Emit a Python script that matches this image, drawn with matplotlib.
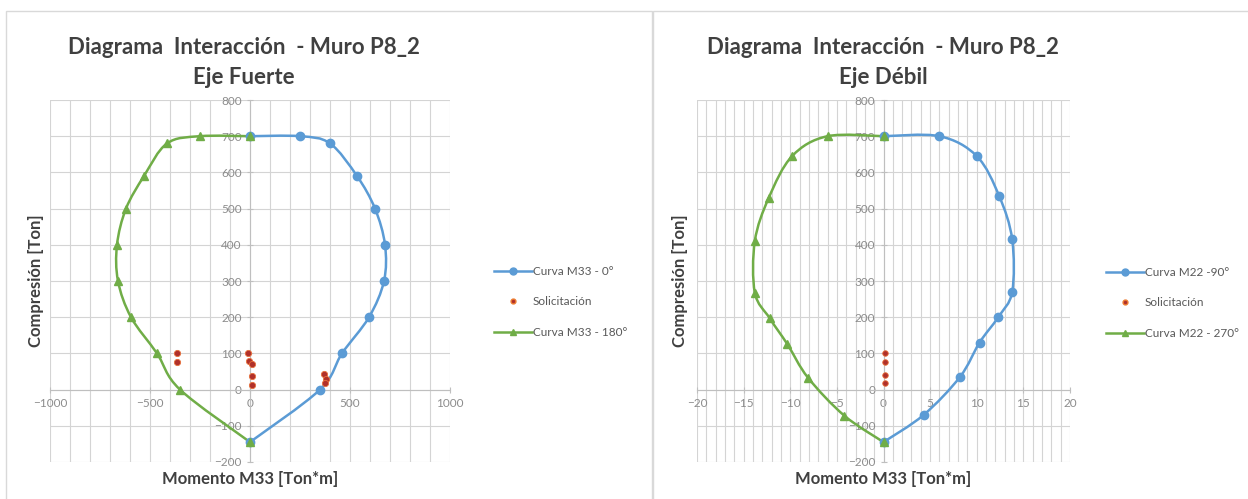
import numpy as np
import matplotlib
matplotlib.use("Agg")
import matplotlib.pyplot as plt
from matplotlib.path import Path
from matplotlib.patches import PathPatch, Rectangle
from matplotlib.lines import Line2D

plt.rcParams['font.family'] = ['Lato', 'DejaVu Sans']

# Eje fuerte (M33)
m33_0 = [0, 250, 400, 535, 625, 675, 670, 595, 460, 350, 0]
p33_0 = [700, 700, 680, 590, 500, 400, 300, 200, 100, 0, -145]
m33_180 = [0, -250, -415, -530, -620, -665, -660, -595, -465, -350, 0]
p33_180 = [700, 700, 680, 590, 500, 400, 300, 200, 100, 0, -145]
sol33_m = [-365, -365, -8, -5, 8, 8, 8, 370, 378, 375]
sol33_p = [100, 75, 100, 80, 70, 37, 14, 42, 28, 18]

# Eje debil (M22)
m22_90 = [0, 6, 10, 12.4, 13.8, 13.8, 12.3, 10.3, 8.2, 4.3, 0]
p22_90 = [700, 700, 645, 535, 415, 270, 200, 130, 35, -70, -145]
m22_270 = [0, -6, -9.8, -12.3, -13.8, -13.8, -12.2, -10.3, -8.1, -4.2, 0]
p22_270 = [700, 700, 645, 530, 410, 268, 197, 125, 33, -72, -145]
sol22_m = [0.2, 0.2, 0.2, 0.2]
sol22_p = [100, 75, 40, 18]

BLUE = '#5B9BD5'
GREEN = '#70AD47'
RED = '#B0302A'
GRID = '#D4D4D4'
TXT = '#595959'

W, H = 1248, 499
fig = plt.figure(figsize=(W / 100, H / 100), dpi=100)


def smooth_path(x, y):
    # curva suave tipo Excel (Catmull-Rom como segmentos Bezier)
    pts = np.column_stack([x, y]).astype(float)
    n = len(pts)
    verts = [pts[0]]
    codes = [Path.MOVETO]
    for i in range(n - 1):
        p0 = pts[max(i - 1, 0)]
        p1 = pts[i]
        p2 = pts[i + 1]
        p3 = pts[min(i + 2, n - 1)]
        c1 = p1 + (p2 - p0) / 6.0
        c2 = p2 - (p3 - p1) / 6.0
        verts += [c1, c2, p2]
        codes += [Path.CURVE4] * 3
    return Path(verts, codes)


def curve(ax, x, y, color, marker):
    ax.add_patch(PathPatch(smooth_path(x, y), fill=False, edgecolor=color,
                           lw=1.8, zorder=3))
    ax.plot(x, y, linestyle='none', marker=marker, ms=6, color=color,
            zorder=4)


def panel(rect, xlim, xstep, xlabel_step):
    ax = fig.add_axes(rect)
    ax.set_xlim(*xlim)
    ax.set_ylim(-200, 800)
    for v in np.arange(xlim[0], xlim[1] + xstep / 2, xstep):
        ax.axvline(v, color=GRID, lw=0.8, zorder=0)
    for v in range(-200, 801, 100):
        ax.axhline(v, color=GRID, lw=0.8, zorder=0)
    ax.set_xticks(np.arange(xlim[0], xlim[1] + 1e-9, xlabel_step))
    ax.set_yticks(range(-200, 801, 100))
    ax.spines['left'].set_position(('data', 0))
    ax.spines['bottom'].set_position(('data', 0))
    for s in ['left', 'bottom']:
        ax.spines[s].set_color('#BFBFBF')
        ax.spines[s].set_linewidth(0.8)
    for s in ['right', 'top']:
        ax.spines[s].set_visible(False)
    ax.tick_params(direction='inout', length=4, width=0.8, color='#BFBFBF',
                   labelsize=8.5, labelcolor='#8C8C8C', pad=4)
    ax.set_facecolor('none')
    return ax


def titles(xc, sub):
    fig.text(xc / W, 1 - 47 / H, 'Diagrama  Interacción  - Muro P8_2',
             ha='center', va='center', fontsize=16, fontweight='bold',
             color='#404040')
    fig.text(xc / W, 1 - 78 / H, sub, ha='center', va='center',
             fontsize=16, fontweight='bold', color='#404040')


def axis_labels(xc, ylab_x):
    fig.text(xc / W, 1 - 479 / H, 'Momento M33 [Ton*m]', ha='center',
             va='center', fontsize=12, fontweight='bold', color='#404040')
    fig.text(ylab_x / W, 1 - 281 / H, 'Compresión [Ton]', ha='center',
             va='center', rotation=90, fontsize=12, fontweight='bold',
             color='#404040')


def legend(labels, x0, y0):
    handles = [
        Line2D([], [], color=BLUE, lw=1.8, marker='o', ms=5),
        Line2D([], [], color=RED, lw=0, marker='o', ms=3.5,
               markeredgecolor='#ED7D31'),
        Line2D([], [], color=GREEN, lw=1.8, marker='^', ms=5),
    ]
    fig.legend(handles, labels, loc='upper left',
               bbox_to_anchor=(x0 / W, 1 - y0 / H), frameon=False,
               fontsize=8.5, labelcolor=TXT, handlelength=3.2,
               handletextpad=0.1, labelspacing=1.65, borderpad=0)


# marcos de cada grafico
fig.add_artist(Rectangle((6 / W, -0.02), (652 - 6) / W, 1 - 11 / H + 0.02,
                         transform=fig.transFigure, fill=False,
                         edgecolor='#D9D9D9', lw=1))
fig.add_artist(Rectangle((653 / W, -0.02), 0.5, 1 - 11 / H + 0.02,
                         transform=fig.transFigure, fill=False,
                         edgecolor='#D9D9D9', lw=1))

# Eje fuerte
ax1 = panel([50 / W, 1 - 462 / H, 400 / W, 362 / H], (-1000, 1000), 100, 500)
curve(ax1, m33_0, p33_0, BLUE, 'o')
curve(ax1, m33_180, p33_180, GREEN, '^')
ax1.plot(sol33_m, sol33_p, linestyle='none', marker='o', ms=4.5, color=RED,
         markeredgecolor='#E8703A', markeredgewidth=0.6, zorder=5)
titles(244, 'Eje Fuerte')
axis_labels(250, 36)
legend(['Curva M33 - 0°', 'Solicitación', 'Curva M33 - 180°'], 488, 260)

# Eje debil
ax2 = panel([697 / W, 1 - 462 / H, 373 / W, 362 / H], (-20, 20), 1, 5)
curve(ax2, m22_90, p22_90, BLUE, 'o')
curve(ax2, m22_270, p22_270, GREEN, '^')
ax2.plot(sol22_m, sol22_p, linestyle='none', marker='o', ms=4, color=RED,
         markeredgecolor='#E8703A', markeredgewidth=0.6, zorder=5)
titles(883, 'Eje Débil')
axis_labels(883, 680)
legend(['Curva M22 -90°', 'Solicitación', 'Curva M22 - 270°'], 1100, 261)

fig.savefig('out.png', dpi=100)
